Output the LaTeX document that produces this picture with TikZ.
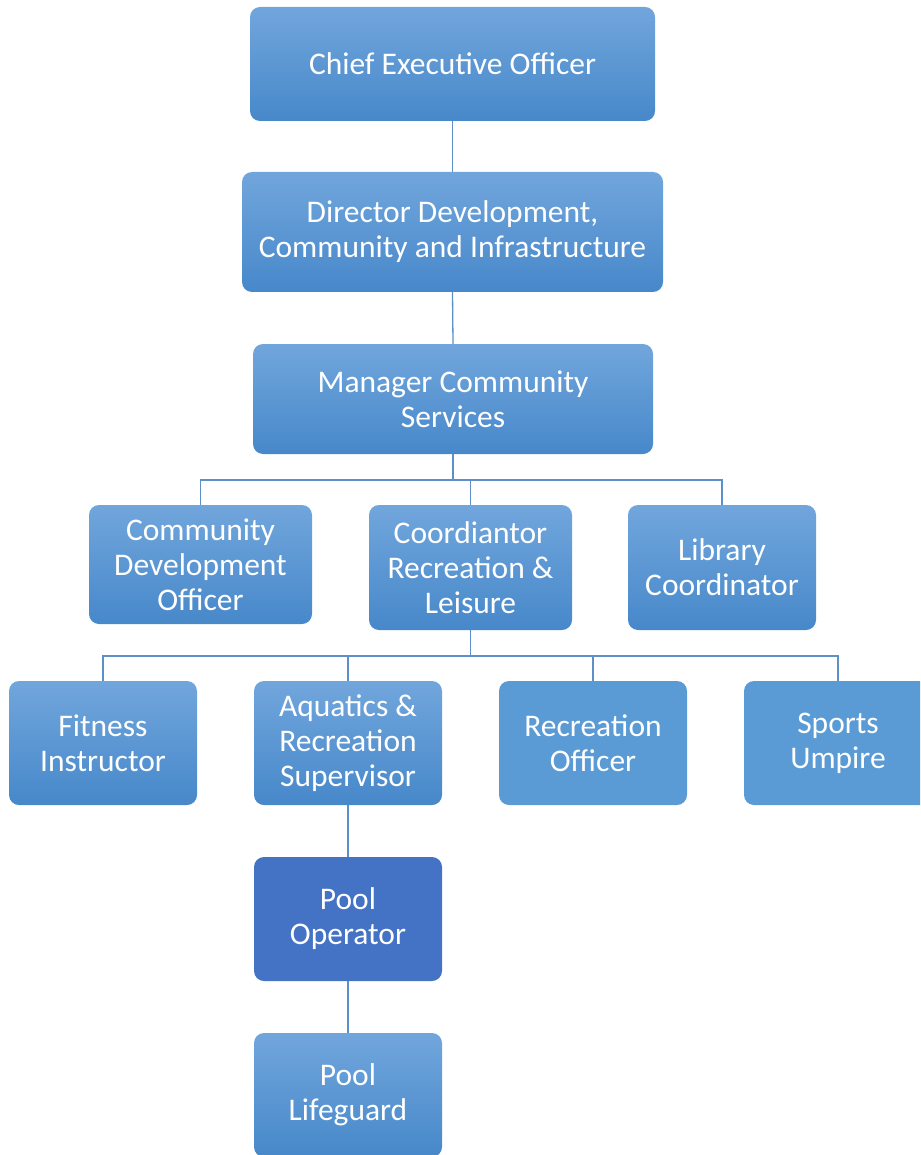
\documentclass[tikz,border=0pt]{standalone}
\usepackage{fontspec}
\setmainfont{Carlito}
\definecolor{grTop}{HTML}{71A6DC}
\definecolor{grBot}{HTML}{4788CA}
\definecolor{flatBlue}{HTML}{5B9BD5}
\definecolor{darkBlue}{HTML}{4472C4}
\definecolor{lineBlue}{HTML}{5D8FC9}
\begin{document}
\begin{tikzpicture}[x=1pt,y=-1pt,
  box/.style={rounded corners=10pt, draw=none, text=white, align=center,
    font=\fontsize{31.5}{35}\selectfont, inner sep=0pt},
  grad/.style={box, top color=grTop, bottom color=grBot},
  flat/.style={box, fill=flatBlue},
  dark/.style={box, fill=darkBlue},
  conn/.style={draw=lineBlue, line width=1.3pt}]
\useasboundingbox (0,0) rectangle (920,1155);
\clip (0,0) rectangle (920,1155);
% nodes
\node[grad, minimum width=405pt, minimum height=114pt] (ceo) at (452.5,64) {Chief Executive Officer};
\node[grad, minimum width=421pt, minimum height=120pt] (dir) at (452.5,232) {Director Development,\\Community and Infrastructure};
\node[grad, minimum width=400pt, minimum height=110pt] (mgr) at (453,399) {Manager Community\\Services};
\node[grad, minimum width=223pt, minimum height=119pt] (cdo) at (200.5,564.5) {Community\\Development\\Officer};
\node[grad, minimum width=203pt, minimum height=125pt] (crl) at (470.5,567.5) {Coordiantor\\Recreation \&\\Leisure};
\node[grad, minimum width=188pt, minimum height=125pt] (lib) at (722,567.5) {Library\\Coordinator};
\node[grad, minimum width=188pt, minimum height=124pt] (fit) at (103,743) {Fitness\\Instructor};
\node[grad, minimum width=188pt, minimum height=124pt] (aqu) at (348,743) {Aquatics \&\\Recreation\\Supervisor};
\node[flat, minimum width=188pt, minimum height=124pt] (rec) at (593,743) {Recreation\\Officer};
\node[flat, minimum width=188pt, minimum height=124pt] (spu) at (838,743) {Sports\\Umpire};
\node[dark, minimum width=188pt, minimum height=124pt] (pop) at (348,919) {Pool\\Operator};
\node[grad, minimum width=188pt, minimum height=124pt] (plg) at (348,1095) {Pool\\Lifeguard};
% bus coordinates
\coordinate (b1) at (453,480);
\coordinate (b2) at (470.5,656);
% connectors
\draw[conn] (ceo.south) -- (dir.north);
\draw[conn] (dir.south) -- (mgr.north);
\draw[conn] (mgr.south) -- (b1);
\draw[conn] (b1) -| (cdo.north);
\draw[conn] (b1) -| (crl.north);
\draw[conn] (b1) -| (lib.north);
\draw[conn] (crl.south) -- (b2);
\draw[conn] (b2) -| (fit.north);
\draw[conn] (b2) -| (aqu.north);
\draw[conn] (b2) -| (rec.north);
\draw[conn] (b2) -| (spu.north);
\draw[conn] (aqu.south) -- (pop.north);
\draw[conn] (pop.south) -- (plg.north);
\end{tikzpicture}
\end{document}
